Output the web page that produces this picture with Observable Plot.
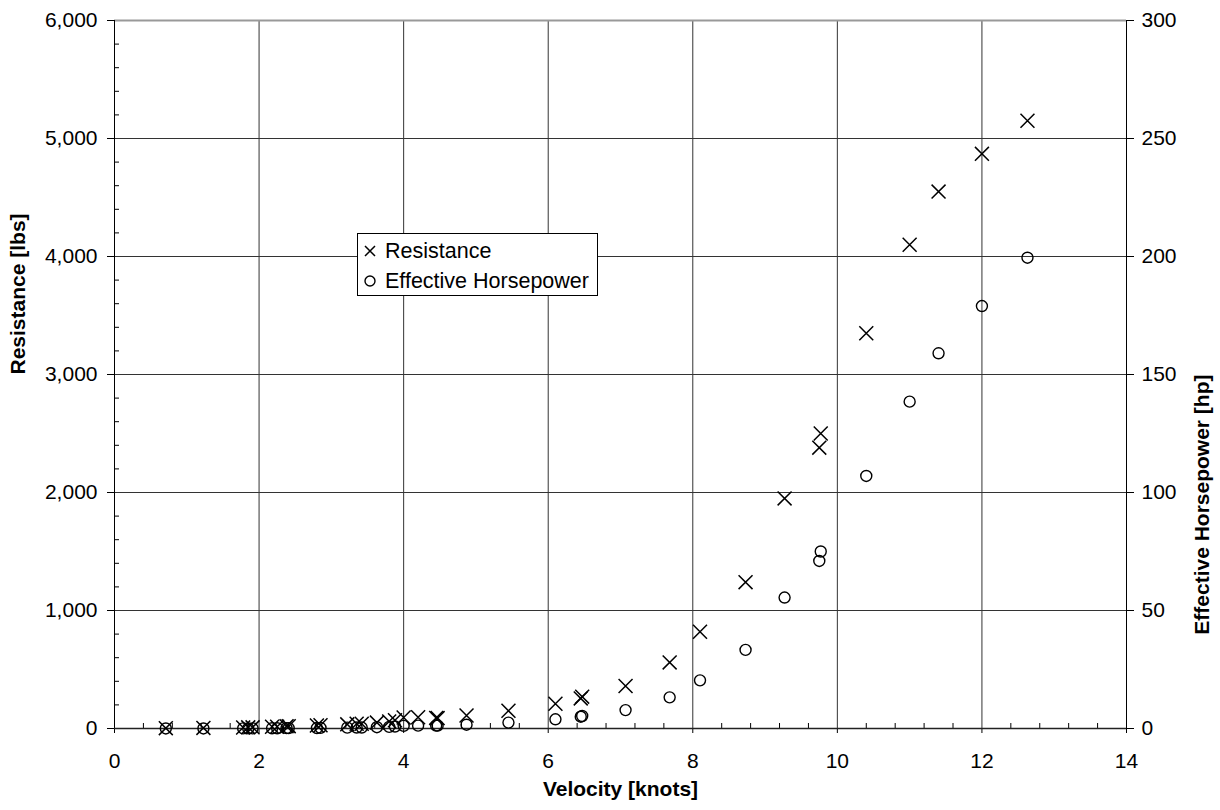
<!DOCTYPE html>
<html>
<head>
<meta charset="utf-8">
<script src="https://cdn.jsdelivr.net/npm/d3@7"></script>
<script src="https://cdn.jsdelivr.net/npm/@observablehq/plot@0.6"></script>
<style>
  html, body { margin: 0; padding: 0; background: white; }
  #wrap { position: relative; width: 1220px; height: 810px; font-family: "Liberation Sans", Arial, sans-serif; }
  #legend { position: absolute; left: 357px; top: 233px; width: 239px; height: 61px; border: 1px solid black; background: white; font-size: 21.5px; color: black; }
  #legend .row { position: absolute; left: 0; height: 24px; display: flex; align-items: center; white-space: nowrap; }
  #legend svg { margin-left: 5px; margin-right: 8px; }
</style>
</head>
<body>
<div id="wrap"></div>
<script>
// ---- data ----
const velocity = [0.71, 1.23, 1.78, 1.85, 1.91, 2.18, 2.25, 2.38, 2.41, 2.8, 2.85, 3.22, 3.35, 3.42, 3.63, 3.8, 3.88, 4.0, 4.2, 4.45, 4.47, 4.87, 5.45, 6.1, 6.45, 6.47, 7.07, 7.68, 8.1, 8.73, 9.27, 9.75, 9.77, 10.4, 11.0, 11.4, 12.0, 12.63];
const resistance = [3, 5, 8, 10, 10, 15, 15, 20, 20, 25, 28, 35, 40, 40, 50, 60, 70, 93, 95, 90, 88, 110, 150, 210, 255, 270, 360, 560, 820, 1240, 1950, 2380, 2500, 3350, 4100, 4550, 4870, 5150];
const horsepower = [0.01, 0.02, 0.04, 0.05, 0.06, 0.1, 0.1, 0.15, 0.15, 0.2, 0.25, 0.35, 0.4, 0.4, 0.55, 0.7, 0.85, 1.1, 1.2, 1.2, 1.2, 1.6, 2.5, 3.9, 5.0, 5.3, 7.8, 13.2, 20.4, 33.3, 55.5, 71, 75, 107, 138.5, 159, 179, 199.5];

const xTicks = [0, 2, 4, 6, 8, 10, 12, 14];
const yTicks = [0, 1000, 2000, 3000, 4000, 5000, 6000];
const hpTicks = [0, 50, 100, 150, 200, 250, 300];

const seriesNames = ["Resistance", "Effective Horsepower"];
const xTitle = "Velocity [knots]";
const yTitle = "Resistance [lbs]";
const y2Title = "Effective Horsepower [hp]";

// secondary axis: 0..300 hp shares the frame with 0..6000 lbs
const resMax = 6000, hpMax = 300, k = resMax / hpMax;

const minorX = d3.range(1, 35).filter(i => i % 5 !== 0).map(i => i * 0.4);
const minorY = d3.range(200, 6000, 200).filter(v => v % 1000 !== 0);

const frameW = 1220 - 114 - 94;
const frameH = 810 - 20 - 82;
const font = "Liberation Sans, Arial, sans-serif";

const chart = Plot.plot({
  width: 1220,
  height: 810,
  marginLeft: 114,
  marginRight: 94,
  marginTop: 20,
  marginBottom: 82,
  x: {domain: [0, 14]},
  y: {domain: [0, resMax]},
  style: {fontFamily: font, fontSize: "21px", color: "black", background: "white", overflow: "visible"},
  marks: [
    Plot.gridX(xTicks.filter(d => d > 0 && d < 14), {stroke: "#333", strokeOpacity: 1, strokeWidth: 1}),
    Plot.gridY(yTicks.filter(d => d > 0 && d < resMax), {stroke: "#333", strokeOpacity: 1, strokeWidth: 1}),
    Plot.ruleY([resMax], {stroke: "#999", strokeWidth: 2}),
    Plot.ruleX([0], {stroke: "black", strokeWidth: 1}),
    Plot.ruleX([14], {stroke: "black", strokeWidth: 1}),
    Plot.tickX(minorX, {x: d => d, insetTop: frameH - 5, stroke: "black", strokeWidth: 1}),
    Plot.tickY(minorY, {y: d => d, insetRight: frameW - 5, stroke: "black", strokeWidth: 1}),
    Plot.axisX({ticks: xTicks, tickSize: 5, tickPadding: 20, label: null, fontSize: 21, tickFormat: d => String(d)}),
    Plot.axisY({anchor: "left", ticks: yTicks, tickSize: 7, tickPadding: 10, label: null, fontSize: 21, tickFormat: d3.format(",")}),
    Plot.axisY({anchor: "right", ticks: hpTicks.map(h => h * k), tickSize: 7, tickPadding: 8, label: null, fontSize: 21, tickFormat: d => String(d / k)}),
    Plot.ruleY([0], {stroke: "#222", strokeWidth: 1.5}),
    Plot.dot(velocity, {x: velocity, y: resistance, symbol: "times", r: 6.4, stroke: "black", strokeWidth: 1.5}),
    Plot.dot(velocity, {x: velocity, y: horsepower.map(h => h * k), symbol: "circle", r: 5.5, stroke: "black", fill: "none", strokeWidth: 1.4}),
    Plot.text([xTitle], {frameAnchor: "bottom", dy: 67, fontSize: 21, fontWeight: "bold", fill: "black"}),
    Plot.text([yTitle], {frameAnchor: "left", dx: -96, rotate: -90, fontSize: 21, fontWeight: "bold", fill: "black"}),
    Plot.text([y2Title], {frameAnchor: "right", dx: 76, rotate: -90, fontSize: 21, fontWeight: "bold", fill: "black"})
  ]
});

const wrap = document.getElementById("wrap");
wrap.appendChild(chart);

// legend
const legend = document.createElement("div");
legend.id = "legend";
const sym = [
  '<svg width="14" height="14" viewBox="-7 -7 14 14"><path d="M-5,-5L5,5M-5,5L5,-5" stroke="black" stroke-width="1.5" fill="none"/></svg>',
  '<svg width="14" height="14" viewBox="-7 -7 14 14"><circle r="5" stroke="black" stroke-width="1.4" fill="none"/></svg>'
];
seriesNames.forEach((name, i) => {
  const row = document.createElement("div");
  row.className = "row";
  row.style.top = (i === 0 ? 5 : 35) + "px";
  row.innerHTML = sym[i] + "<span>" + name + "</span>";
  legend.appendChild(row);
});
wrap.appendChild(legend);
</script>
</body>
</html>
